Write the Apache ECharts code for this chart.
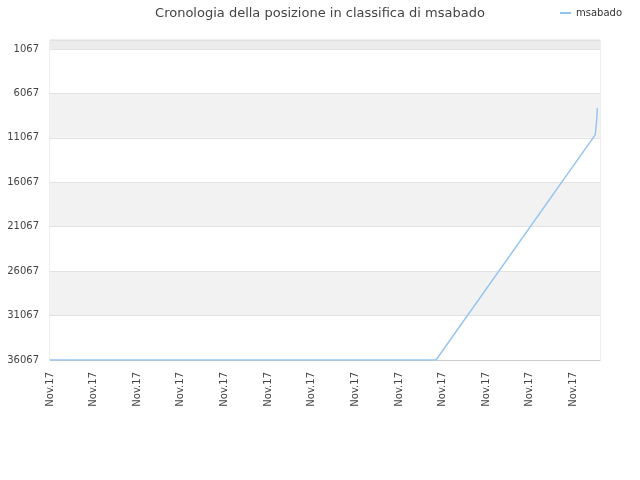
<!DOCTYPE html>
<html>
<head>
<meta charset="utf-8">
<script src="https://cdn.jsdelivr.net/npm/echarts@6/dist/echarts.min.js"></script>
<style>html,body{margin:0;padding:0;background:#fff}#c{width:640px;height:480px}</style>
</head>
<body>
<div id="c"></div>
<script>
const titleText = 'Cronologia della posizione in classifica di msabado';
const seriesName = 'msabado';
// x positions in label units (one unit per "Nov.17" tick)
const xPos = [0, 8.85, 12.50, 12.53, 12.55];
const rankValues = [36067, 36067, 10740, 9300, 7700];
const xTickLabels = ['Nov.17','Nov.17','Nov.17','Nov.17','Nov.17','Nov.17','Nov.17','Nov.17','Nov.17','Nov.17','Nov.17','Nov.17','Nov.17'];
const yTickValues = [1067, 6067, 11067, 16067, 21067, 26067, 31067, 36067];
const yMin = 54;

const points = xPos.map((x, i) => [x, rankValues[i]]);

const chart = echarts.init(document.getElementById('c'));
chart.setOption({
  animation: false,
  textStyle: { fontFamily: 'DejaVu Sans' },
  title: {
    text: titleText, left: 'center', top: 2,
    textStyle: { fontSize: 13, fontWeight: 'normal', color: '#444', fontFamily: 'DejaVu Sans' }
  },
  legend: {
    right: 13, top: 3, itemWidth: 11, itemHeight: 2, itemGap: 8, icon: 'rect',
    textStyle: { fontSize: 10, color: '#333', fontFamily: 'DejaVu Sans' },
    data: [seriesName]
  },
  grid: { left: 50, right: 40, top: 40, bottom: 120, show: true, borderColor: '#ddd', borderWidth: 1, containLabel: false },
  xAxis: {
    type: 'value', min: 0, max: 12.61, interval: 1,
    axisLine: { show: true, lineStyle: { color: '#ccc' } },
    axisTick: { show: false },
    splitLine: { show: false },
    axisLabel: {
      rotate: 90, margin: 12, fontSize: 10, color: '#444', showMaxLabel: false,
      formatter: v => (Number.isInteger(v) && xTickLabels[v] !== undefined) ? xTickLabels[v] : ''
    }
  },
  yAxis: {
    type: 'value', inverse: true,
    min: yMin, max: yTickValues[yTickValues.length - 1],
    axisLine: { show: false },
    axisTick: { show: false, customValues: [yMin].concat(yTickValues) },
    axisLabel: {
      fontSize: 10, color: '#444', margin: 11, customValues: yTickValues,
      formatter: v => String(v)
    },
    splitLine: { show: true, lineStyle: { color: '#e2e2e2' } },
    splitArea: { show: true, areaStyle: { color: ['#ececec','#ffffff','#f2f2f2','#ffffff','#f2f2f2','#ffffff','#f2f2f2','#ffffff'] } }
  },
  series: [{
    name: seriesName, type: 'line', data: points,
    symbol: 'none', showSymbol: false,
    lineStyle: { color: '#92c3f3', width: 1.4 },
    itemStyle: { color: '#92c3f3' }
  }]
});
</script>
</body>
</html>
